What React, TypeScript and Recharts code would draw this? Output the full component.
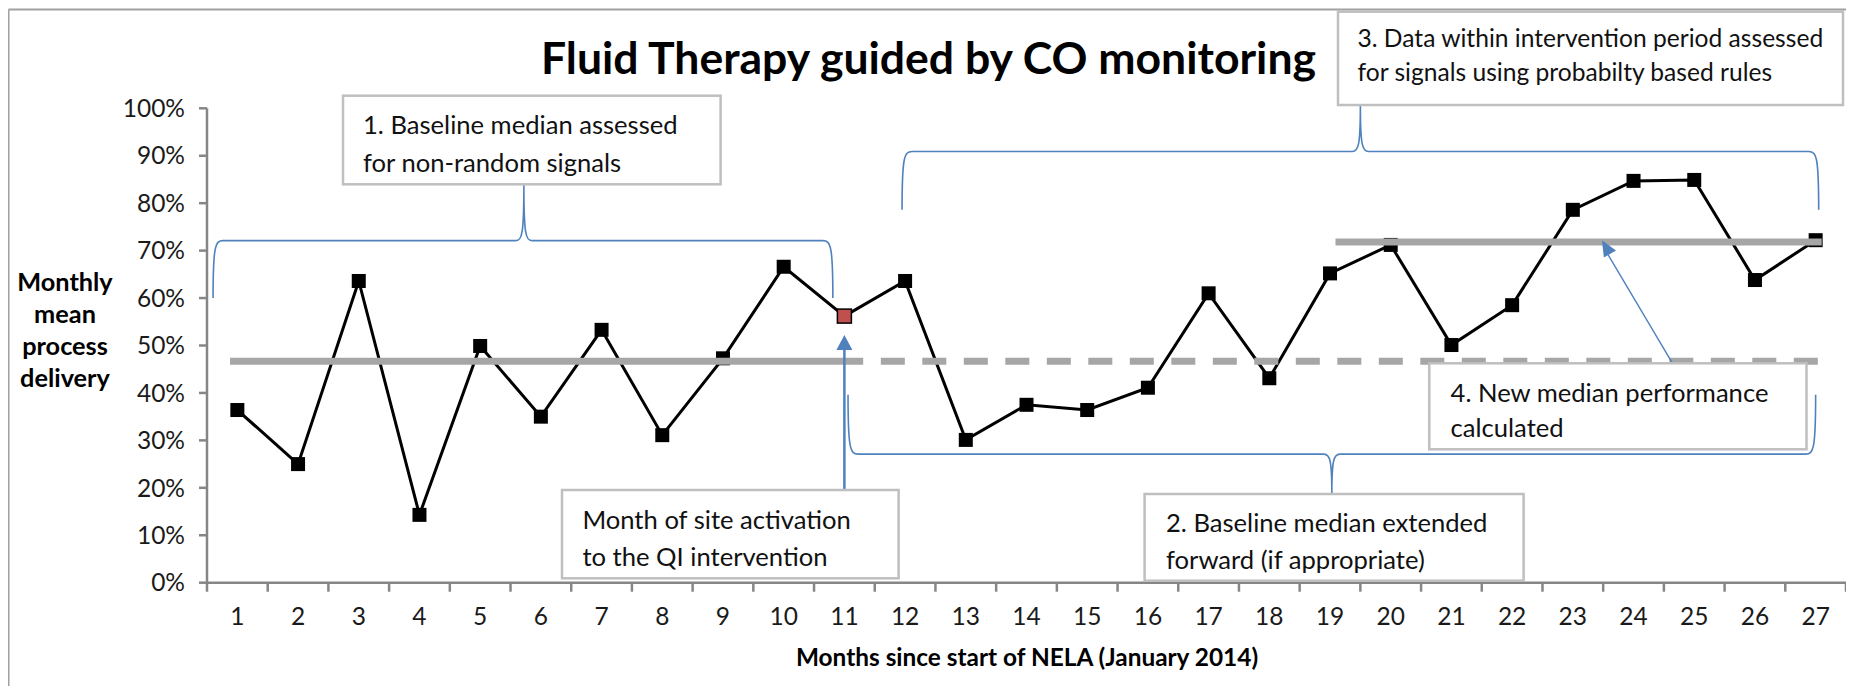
import React from 'react'
import { LineChart, Line, XAxis, YAxis, ReferenceLine } from 'recharts'

// months since start of NELA (January 2014)
const months = [1, 2, 3, 4, 5, 6, 7, 8, 9, 10, 11, 12, 13, 14, 15, 16, 17, 18, 19, 20, 21, 22, 23, 24, 25, 26, 27]
// monthly mean process delivery, %
const delivery = [36.4, 25.0, 63.6, 14.3, 49.9, 35.0, 53.3, 31.1, 47.3, 66.6, 56.2, 63.6, 30.1, 37.5, 36.4, 41.1, 61.0, 43.1, 65.2, 71.2, 50.1, 58.5, 78.6, 84.7, 84.9, 63.8, 72.2]
const yTicks = [0, 10, 20, 30, 40, 50, 60, 70, 80, 90, 100]
const activationMonth = 11
const baselineMedian = 46.7
const newMedian = 71.8
const baselineSpan = [0.88, 11.31]
const extendedSpan = [11.6, 27.25]
const newMedianSpan = [19.09, 27.1]

const data = months.map((m, i) => ({ month: m, value: delivery[i] }))
// tick lines sit between categories, labels on the months
const xTicks = [...months.map((m) => m - 0.5), 27.5, ...months]

const W = 1846
const H = 678
const PLOT = { left: 199, top: 100.3, right: 1838, bottom: 574.7 }
const X_DOMAIN = [0.5, 27.5]

// data -> pixel helpers for the callouts
const px = (m: number) => PLOT.left + ((m - X_DOMAIN[0]) / (X_DOMAIN[1] - X_DOMAIN[0])) * (PLOT.right - PLOT.left)
const py = (v: number) => PLOT.bottom - (v / 100) * (PLOT.bottom - PLOT.top)

const AXIS = '#868686'
const BLUE = '#4f81bd'
const MEDIAN = '#a6a6a6'
const BOX = '#bfbfbf'
const LABEL = 24.5

const XTick = (props: any) => {
  const { x, y, payload } = props
  const v = payload.value
  if (Number.isInteger(v)) {
    return (
      <text x={x} y={y + 33} textAnchor="middle" fontSize={LABEL} fill="#1a1a1a">
        {v}
      </text>
    )
  }
  return <line x1={x} x2={x} y1={y - 9} y2={y} stroke={AXIS} strokeWidth={2.5} />
}

const Marker = (props: any) => {
  const { cx, cy, payload } = props
  const hot = payload.month === activationMonth
  return (
    <rect
      key={`m-${payload.month}`}
      x={cx - 7}
      y={cy - 7}
      width={14}
      height={14}
      fill={hot ? '#c0504d' : '#000'}
      stroke="#000"
      strokeWidth={hot ? 1.5 : 0}
    />
  )
}

// curly brace: ends at (x0,yEnd) / (x1,yEnd), bar at yBar, tip at (tx,ty)
function brace(x0: number, x1: number, yBar: number, yEnd: number, tx: number, ty: number) {
  const s = yEnd > yBar ? 1 : -1
  const t = ty < yBar ? -1 : 1
  return [
    `M${x0},${yEnd}`,
    `C${x0},${yBar + s * 6} ${x0 + 2},${yBar} ${x0 + 10},${yBar}`,
    `L${tx - 8},${yBar}`,
    `C${tx - 2},${yBar} ${tx},${yBar + t * 6} ${tx},${ty}`,
    `C${tx},${yBar + t * 6} ${tx + 2},${yBar} ${tx + 8},${yBar}`,
    `L${x1 - 10},${yBar}`,
    `C${x1 - 2},${yBar} ${x1},${yBar + s * 6} ${x1},${yEnd}`,
  ].join(' ')
}

function arrowHead(x0: number, y0: number, x1: number, y1: number, len: number, half: number) {
  const dx = x1 - x0
  const dy = y1 - y0
  const d = Math.hypot(dx, dy)
  const ux = dx / d
  const uy = dy / d
  const bx = x1 - ux * len
  const by = y1 - uy * len
  return `${x1},${y1} ${bx - uy * half},${by + ux * half} ${bx + uy * half},${by - ux * half}`
}

const boxes = [
  { x: 335, y: 87.7, w: 377.6, h: 88.6, fs: 25.6, lines: ['1. Baseline median assessed', 'for non-random signals'], tx: 355, ty: [126, 164] },
  { x: 1330, y: 3.7, w: 505, h: 93.3, fs: 24.6, lines: ['3. Data within intervention period assessed', 'for signals using probabilty based rules'], tx: 1349.5, ty: [39, 73] },
  { x: 554, y: 482, w: 336.6, h: 88.3, fs: 25.6, lines: ['Month of site activation', 'to the QI intervention'], tx: 574.4, ty: [521, 557.7] },
  { x: 1136.6, y: 486, w: 379, h: 86.7, fs: 25.6, lines: ['2. Baseline median extended', 'forward (if appropriate)'], tx: 1158, ty: [524.3, 561] },
  { x: 1421.3, y: 355.3, w: 377.2, h: 86, fs: 25.6, lines: ['4. New median performance', 'calculated'], tx: 1442.6, ty: [393.7, 429.3] },
]

function Overlay() {
  const a1x = px(activationMonth)
  const a1tip = py(52.2)
  const a4 = { x0: px(24.64), y0: py(46.3), x1: px(23.48), y1: py(72.2) }
  return (
    <svg width={W} height={H} style={{ position: 'absolute', left: 0, top: 0, pointerEvents: 'none' }}>
      <line x1={0.5} y1={1.5} x2={W} y2={1.5} stroke="#a0a0a0" strokeWidth={2} />
      <line x1={0.5} y1={1.5} x2={0.5} y2={H} stroke="#a0a0a0" strokeWidth={2} />

      <text x={920.5} y={66} textAnchor="middle" fontSize={43} fontWeight={700} fill="#000" textLength={775} lengthAdjust="spacingAndGlyphs">
        Fluid Therapy guided by CO monitoring
      </text>

      {['Monthly', 'mean', 'process', 'delivery'].map((t, i) => (
        <text key={t} x={57} y={283 + i * 32} textAnchor="middle" fontSize={25.3} fontWeight={700} fill="#000">
          {t}
        </text>
      ))}
      <text x={1019} y={658} textAnchor="middle" fontSize={24.4} fontWeight={700} fill="#000">
        Months since start of NELA (January 2014)
      </text>

      <g fill="none" stroke={BLUE} strokeWidth={1.6}>
        <path d={brace(px(0.6), px(10.81), py(72.1), py(60), px(5.72), py(83.8))} />
        <path d={brace(px(11.95), px(27.05), py(90.9), py(78.6), px(19.5), py(100.7))} />
        <path d={brace(px(11.06), px(27.0), py(27.1), py(39.6), px(19.03), py(18.9))} />
      </g>

      <line x1={a1x} y1={482} x2={a1x} y2={a1tip + 12} stroke={BLUE} strokeWidth={2.5} />
      <polygon points={arrowHead(a1x, 482, a1x, a1tip, 15, 8)} fill={BLUE} />
      <line x1={a4.x0} y1={a4.y0} x2={a4.x1 + 4} y2={a4.y1 + 11} stroke={BLUE} strokeWidth={1.4} />
      <polygon points={arrowHead(a4.x0, a4.y0, a4.x1, a4.y1, 16, 7)} fill={BLUE} />

      {boxes.map((b) => (
        <g key={b.lines[0]}>
          <rect x={b.x} y={b.y} width={b.w} height={b.h} fill="#fff" stroke={BOX} strokeWidth={2.5} />
          {b.lines.map((l, i) => (
            <text key={l} x={b.tx} y={b.ty[i]} fontSize={b.fs} fill="#111">
              {l}
            </text>
          ))}
        </g>
      ))}
    </svg>
  )
}

export default function App() {
  return (
    <div style={{ position: 'relative', width: W, height: H, fontFamily: 'Lato, sans-serif', background: '#fff' }}>
      <LineChart
        width={W}
        height={H}
        data={data}
        margin={{ top: PLOT.top, right: W - PLOT.right, left: PLOT.left - 60, bottom: H - PLOT.bottom - 40 }}
      >
        <XAxis
          dataKey="month"
          type="number"
          domain={X_DOMAIN}
          ticks={xTicks}
          interval={0}
          height={40}
          tick={<XTick />}
          tickLine={false}
          tickSize={9}
          tickMargin={0}
          axisLine={{ stroke: AXIS, strokeWidth: 2.5 }}
          allowDataOverflow
        />
        <YAxis
          type="number"
          domain={[0, 100]}
          ticks={yTicks}
          width={60}
          tickFormatter={(v: number) => `${v}%`}
          tick={{ fontSize: LABEL, fill: '#1a1a1a' }}
          tickSize={8}
          tickMargin={14}
          tickLine={{ stroke: AXIS, strokeWidth: 2.5 }}
          axisLine={{ stroke: AXIS, strokeWidth: 2.5 }}
        />
        <Line
          dataKey="value"
          stroke="#000"
          strokeWidth={3}
          dot={Marker}
          activeDot={false}
          isAnimationActive={false}
        />
        <ReferenceLine
          segment={[{ x: baselineSpan[0], y: baselineMedian }, { x: baselineSpan[1], y: baselineMedian }]}
          stroke={MEDIAN}
          strokeWidth={7}
          zIndex={1200}
        />
        <ReferenceLine
          segment={[{ x: extendedSpan[0], y: baselineMedian }, { x: extendedSpan[1], y: baselineMedian }]}
          stroke={MEDIAN}
          strokeWidth={7}
          strokeDasharray="24 17.5"
          zIndex={1200}
        />
        <ReferenceLine
          segment={[{ x: newMedianSpan[0], y: newMedian }, { x: newMedianSpan[1], y: newMedian }]}
          stroke={MEDIAN}
          strokeWidth={7}
          zIndex={1200}
        />
      </LineChart>
      <Overlay />
    </div>
  )
}
